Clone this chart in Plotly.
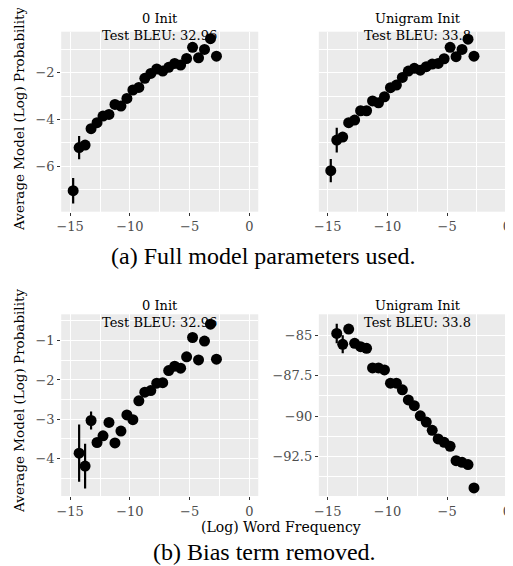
import plotly.graph_objects as go

# ---------------- data ----------------
x_top = [-14.75, -14.25, -13.75, -13.25, -12.75, -12.25, -11.75, -11.25, -10.75, -10.25,
         -9.75, -9.25, -8.75, -8.25, -7.75, -7.25, -6.75, -6.25, -5.75, -5.25,
         -4.75, -4.25, -3.75, -3.25, -2.75]
y_full_zero = [-7.06, -5.21, -5.10, -4.40, -4.14, -3.86, -3.79, -3.36, -3.43, -3.10,
               -2.74, -2.63, -2.24, -2.03, -1.84, -1.93, -1.77, -1.60, -1.67, -1.39,
               -0.91, -1.36, -1.00, -0.54, -1.29]
e_full_zero = [0.55, 0.50, 0.20, 0.10, 0.10, 0.08, 0.08, 0.06, 0.06, 0.05,
               0.05, 0.05, 0.04, 0.04, 0.04, 0.04, 0.04, 0.04, 0.04, 0.04,
               0.04, 0.04, 0.04, 0.04, 0.04]
y_full_uni = [-6.20, -4.89, -4.76, -4.14, -4.03, -3.63, -3.63, -3.21, -3.29, -3.03,
              -2.64, -2.53, -2.20, -1.93, -1.81, -1.89, -1.74, -1.63, -1.60, -1.40,
              -0.91, -1.31, -1.00, -0.56, -1.29]
e_full_uni = [0.50, 0.53, 0.20, 0.10, 0.10, 0.08, 0.08, 0.06, 0.06, 0.05,
              0.05, 0.05, 0.04, 0.04, 0.04, 0.04, 0.04, 0.04, 0.04, 0.04,
              0.04, 0.04, 0.04, 0.04, 0.04]

x_bot = x_top[1:]
y_nobias_zero = [-3.86, -4.19, -3.03, -3.59, -3.42, -3.08, -3.60, -3.30, -2.89, -3.01,
                 -2.53, -2.31, -2.27, -2.08, -2.07, -1.76, -1.65, -1.70, -1.41, -0.92,
                 -1.49, -1.01, -0.58, -1.47]
e_nobias_zero = [0.73, 0.57, 0.23, 0.10, 0.10, 0.10, 0.08, 0.08, 0.06, 0.06,
                 0.05, 0.05, 0.05, 0.05, 0.05, 0.05, 0.05, 0.05, 0.05, 0.05,
                 0.05, 0.05, 0.05, 0.05]
y_nobias_uni = [-84.90, -85.57, -84.63, -85.51, -85.72, -85.82, -87.03, -87.03, -87.15, -87.97,
                -87.97, -88.38, -89.00, -89.36, -89.98, -90.37, -90.88, -91.41, -91.62, -91.86,
                -92.75, -92.85, -92.99, -94.43]
e_nobias_uni = [0.60, 0.55, 0.20, 0.15, 0.10, 0.10, 0.10, 0.10, 0.10, 0.10,
                0.10, 0.10, 0.10, 0.10, 0.10, 0.10, 0.10, 0.10, 0.10, 0.10,
                0.10, 0.10, 0.10, 0.10]

x_ticks = [-15, -10, -5, 0]
y_ticks_top = [-2, -4, -6]
y_ticks_bl = [-1, -2, -3, -4]
y_ticks_br = [-85, -87.5, -90, -92.5]
y_ticktext_br = ["\u221285", "\u221287.5", "\u221290", "\u221292.5"]

titles_left = ["0 Init", "Test BLEU: 32.96"]
titles_right = ["Unigram Init", "Test BLEU: 33.8"]
y_title = "Average Model (Log) Probability"
x_title = "(Log) Word Frequency"
caption_a = "(a) Full model parameters used."
caption_b = "(b) Bias term removed."

# ---------------- layout helpers ----------------
# the page body adds an 8px margin, so the figure is laid out in page
# coordinates shifted by that offset
OFF = 8
W, H = 513 - OFF, 566 - OFF
def px(x):
    return (x - OFF) / W
def py(y):
    return 1 - (y - OFF) / H

SERIF = "DejaVu Serif"
TICKFONT = dict(family=SERIF, size=13, color="#4D4D4D")

L_DOM = [px(56.7), px(255.7)]
R_DOM = [px(316.9), 1.0]
TOP_DOM = [py(211.7), py(31.7)]
BOT_DOM = [py(496.0), py(314.3)]

fig = go.Figure()

def add(xs, ys, es, xa, ya):
    fig.add_trace(go.Scatter(
        x=xs, y=ys, mode="markers", xaxis=xa, yaxis=ya,
        marker=dict(size=11, color="black"),
        error_y=dict(type="data", array=es, visible=True, width=0,
                     thickness=2.2, color="black"),
        showlegend=False, hoverinfo="skip"))

add(x_top, y_full_zero, e_full_zero, "x", "y")
add(x_top, y_full_uni, e_full_uni, "x2", "y2")
add(x_bot, y_nobias_zero, e_nobias_zero, "x3", "y3")
add(x_bot, y_nobias_uni, e_nobias_uni, "x4", "y4")

def xaxis(domain, rng, anchor):
    return dict(domain=domain, range=rng, anchor=anchor,
                tickvals=x_ticks, ticks="outside", ticklen=3, tickwidth=1,
                tickcolor="#333333", tickfont=TICKFONT,
                showgrid=True, gridcolor="white", gridwidth=1.1,
                minor=dict(dtick=2.5, tick0=0, showgrid=True, gridcolor="white",
                           gridwidth=0.5, ticks=""),
                zeroline=False, showline=False)

def yaxis(domain, rng, anchor, tickvals, show=True, ticktext=None, minor=None):
    d = dict(domain=domain, range=rng, anchor=anchor,
             tickvals=tickvals, ticks="outside" if show else "", ticklen=3,
             tickwidth=1, tickcolor="#333333", tickfont=TICKFONT,
             showticklabels=show,
             showgrid=True, gridcolor="white", gridwidth=1.1,
             minor=dict(dtick=minor, tick0=0, showgrid=True, gridcolor="white",
                        gridwidth=0.5, ticks=""),
             zeroline=False, showline=False)
    if ticktext is not None:
        d["ticktext"] = ticktext
    return d

fig.update_layout(
    width=W, height=H,
    margin=dict(l=0, r=0, t=0, b=0),
    paper_bgcolor="white", plot_bgcolor="#EBEBEB",
    xaxis=xaxis(L_DOM, [-15.75, 0.75], "y"),
    xaxis2=xaxis(R_DOM, [-15.75, 0.52], "y2"),
    xaxis3=xaxis(L_DOM, [-15.75, 0.75], "y3"),
    xaxis4=xaxis(R_DOM, [-15.75, 0.52], "y4"),
    yaxis=yaxis(TOP_DOM, [-7.96, -0.24], "x", y_ticks_top, minor=1),
    yaxis2=yaxis(TOP_DOM, [-7.96, -0.24], "x2", y_ticks_top, show=False, minor=1),
    yaxis3=yaxis(BOT_DOM, [-4.95, -0.33], "x3", y_ticks_bl, minor=0.5),
    yaxis4=yaxis(BOT_DOM, [-94.93, -83.72], "x4", y_ticks_br,
                 ticktext=y_ticktext_br, minor=1.25),
)

ann = []
def text(t, x, y, size, family=SERIF, color="black", angle=0, yanchor="middle"):
    ann.append(dict(text=t, x=px(x), y=py(y), xref="paper", yref="paper",
                    xanchor="center", yanchor=yanchor, showarrow=False,
                    textangle=angle, font=dict(family=family, size=size, color=color)))

cl = (56.7 + 255.7) / 2
cr = (316.9 + 515.7) / 2
for t1, t2, c in [(titles_left[0], titles_left[1], cl),
                  (titles_right[0], titles_right[1], cr)]:
    text(t1 + "<br>" + t2, c, 8.5, 13, yanchor="top")
    text(t1 + "<br>" + t2, c, 296, 13, yanchor="top")

text(y_title, 14, 119, 13.5, angle=-90)
text(y_title, 14, 401, 13.5, angle=-90)
text(x_title, 279, 527, 14)
text(caption_a, 261, 256, 24, family="Liberation Serif")
text(caption_b, 261.7, 552, 24, family="Liberation Serif")

fig.update_layout(annotations=ann)
fig.write_html("out.html")
